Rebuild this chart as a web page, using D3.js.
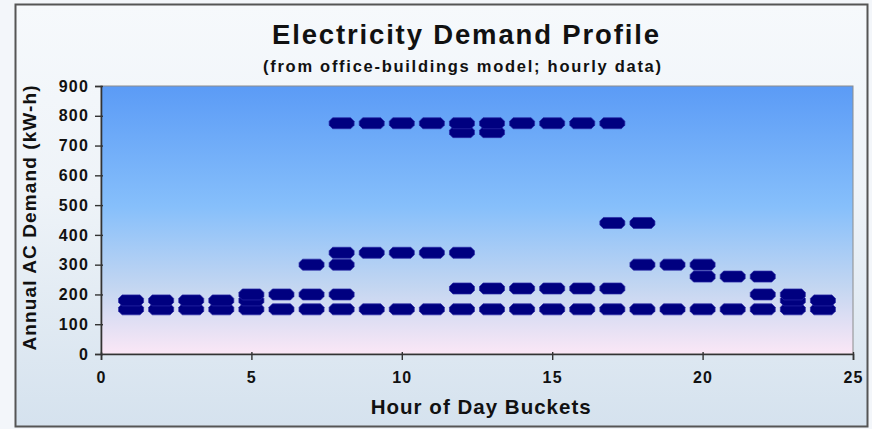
<!DOCTYPE html>
<html>
<head>
<meta charset="utf-8">
<script src="https://cdn.jsdelivr.net/npm/d3@7/dist/d3.min.js"></script>
<style>
  html, body { margin: 0; padding: 0; background: #f3f6fa; }
  svg { display: block; }
  text { font-family: "Liberation Sans", Arial, sans-serif; font-weight: bold; fill: #111; }
</style>
</head>
<body>
<svg id="chart" width="872" height="429"></svg>
<script>
// ---- data ----
const hours = [1,2,3,4,5,6,7,8,9,10,11,12,13,14,15,16,17,18,19,20,21,22,23,24];
const baseLoad   = [150,150,150,150,150,150,150,150,150,150,150,150,150,150,150,150,150,150,150,150,150,150,150,150];
const nightLoad  = [180,180,180,180,180,null,null,null,null,null,null,null,null,null,null,null,null,null,null,null,null,null,180,180];
const shoulder   = [null,null,null,null,200,200,200,200,null,null,null,null,null,null,null,null,null,null,null,null,null,200,200,null];
const midLoad    = [null,null,null,null,null,null,null,null,null,null,null,220,220,220,220,220,220,null,null,null,null,null,null,null];
const eveningLow = [null,null,null,null,null,null,null,null,null,null,null,null,null,null,null,null,null,null,null,260,260,260,null,null];
const rampLoad   = [null,null,null,null,null,null,300,300,null,null,null,null,null,null,null,null,null,300,300,300,null,null,null,null];
const morningHi  = [null,null,null,null,null,null,null,340,340,340,340,340,null,null,null,null,null,null,null,null,null,null,null,null];
const lateHi     = [null,null,null,null,null,null,null,null,null,null,null,null,null,null,null,null,440,440,null,null,null,null,null,null];
const peakLow    = [null,null,null,null,null,null,null,null,null,null,null,745,745,null,null,null,null,null,null,null,null,null,null,null];
const peakLoad   = [null,null,null,null,null,null,null,775,775,775,775,775,775,775,775,775,775,null,null,null,null,null,null,null];
const xTicks = [0,5,10,15,20,25];
const yTicks = [0,100,200,300,400,500,600,700,800,900];
const titleText = "Electricity Demand Profile";
const subtitleText = "(from office-buildings model; hourly data)";
const xTitle = "Hour of Day Buckets";
const yTitle = "Annual AC Demand (kW-h)";

const allSeries = [baseLoad, nightLoad, shoulder, midLoad, eveningLow, rampLoad, morningHi, lateHi, peakLow, peakLoad];

// ---- layout ----
const svg = d3.select("#chart");
const plot = {left: 101, right: 853, top: 86, bottom: 354};
const x = d3.scaleLinear().domain([0, 25]).range([plot.left, plot.right]);
const y = d3.scaleLinear().domain([0, 900]).range([plot.bottom, plot.top]);

const defs = svg.append("defs");
const outerGrad = defs.append("linearGradient").attr("id", "outerGrad").attr("x1", 0).attr("y1", 0).attr("x2", 0).attr("y2", 1);
outerGrad.append("stop").attr("offset", "0%").attr("stop-color", "#f6f9fc");
outerGrad.append("stop").attr("offset", "45%").attr("stop-color", "#eef3f8");
outerGrad.append("stop").attr("offset", "100%").attr("stop-color", "#d5e2ee");

const plotGrad = defs.append("linearGradient").attr("id", "plotGrad").attr("x1", 0).attr("y1", 0).attr("x2", 0).attr("y2", 1);
plotGrad.append("stop").attr("offset", "0%").attr("stop-color", "#5b9bf6");
plotGrad.append("stop").attr("offset", "45%").attr("stop-color", "#86bffb");
plotGrad.append("stop").attr("offset", "75%").attr("stop-color", "#c3d6f1");
plotGrad.append("stop").attr("offset", "100%").attr("stop-color", "#fbe7f6");

// chart frame
svg.append("rect").attr("x", 15.5).attr("y", 4.5).attr("width", 852).attr("height", 422)
  .attr("fill", "url(#outerGrad)").attr("stroke", "#555").attr("stroke-width", 2);

// plot area
svg.append("rect").attr("x", plot.left).attr("y", plot.top)
  .attr("width", plot.right - plot.left).attr("height", plot.bottom - plot.top)
  .attr("fill", "url(#plotGrad)").attr("stroke", "#8c8c8c").attr("stroke-width", 1);

// axes
const yAxis = d3.axisLeft(y).tickValues(yTicks).tickSize(6).tickPadding(5);
const gy = svg.append("g").attr("transform", `translate(${plot.left},0)`).call(yAxis);
const xAxis = d3.axisBottom(x).tickValues(xTicks).tickSize(6).tickPadding(12);
const gx = svg.append("g").attr("transform", `translate(0,${plot.bottom})`).call(xAxis);
[gx, gy].forEach(g => {
  g.select(".domain").attr("stroke", "#333").attr("stroke-width", 1.6);
  g.selectAll(".tick line").attr("stroke", "#333").attr("stroke-width", 1.4);
  g.selectAll(".tick text").style("font-family", '"Liberation Sans", Arial, sans-serif')
    .style("font-weight", "bold").style("font-size", "16px").style("letter-spacing", "1.2px").attr("fill", "#111");
});
gy.selectAll(".tick line").attr("x1", 2);
gy.selectAll(".tick text").attr("x", -12);
gx.selectAll(".tick line").attr("y1", -2);
gx.selectAll(".tick text").attr("dy", "0.71em");

// markers (Excel "dash" style)
const mw = 12.5, mh = 5.5, ch = 3.5;
const dashPath = `M${-mw},${-mh + ch} L${-mw + ch},${-mh} L${mw - ch},${-mh} L${mw},${-mh + ch} L${mw},${mh - ch} L${mw - ch},${mh} L${-mw + ch},${mh} L${-mw},${mh - ch} Z`;
const points = [];
allSeries.forEach(s => s.forEach((v, i) => { if (v != null) points.push({h: hours[i], v}); }));
svg.append("g").selectAll("path").data(points).join("path")
  .attr("d", dashPath)
  .attr("transform", d => `translate(${x(d.h)},${y(d.v)})`)
  .attr("fill", "#000080").attr("stroke", "#2a2aa6").attr("stroke-width", 0.7)
  .attr("stroke-linejoin", "round");

// titles
svg.append("text").attr("x", 465.5).attr("y", 44).attr("text-anchor", "middle")
  .attr("font-size", 27.5).attr("textLength", 387).attr("lengthAdjust", "spacing").text(titleText);
svg.append("text").attr("x", 462).attr("y", 72).attr("text-anchor", "middle")
  .attr("font-size", 16.5).attr("textLength", 398).attr("lengthAdjust", "spacing").text(subtitleText);
svg.append("text").attr("x", 480.7).attr("y", 414).attr("text-anchor", "middle")
  .attr("font-size", 20.5).attr("textLength", 220).attr("lengthAdjust", "spacing").text(xTitle);
svg.append("text").attr("transform", "translate(36,218) rotate(-90)").attr("text-anchor", "middle")
  .attr("font-size", 19).attr("textLength", 265).attr("lengthAdjust", "spacing").text(yTitle);
</script>
</body>
</html>
